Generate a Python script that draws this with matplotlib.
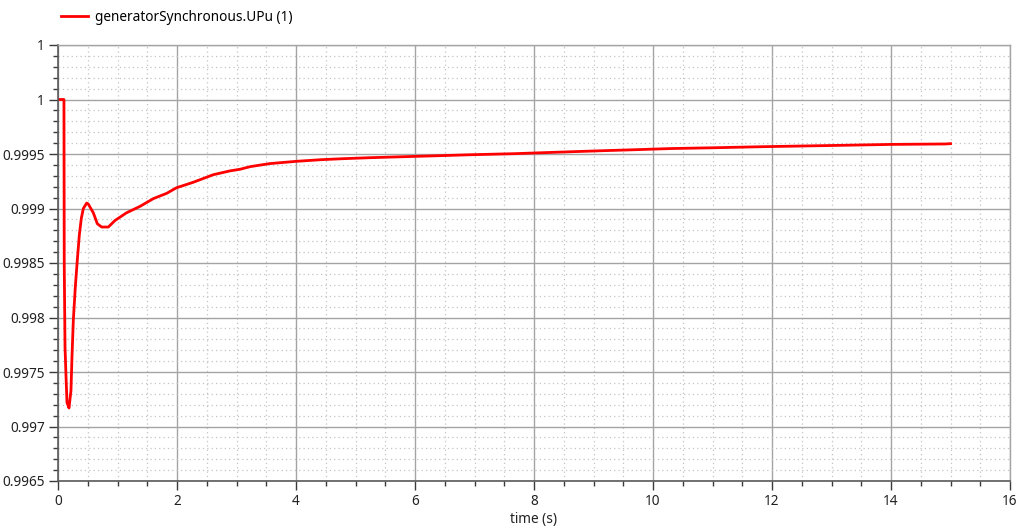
import matplotlib
matplotlib.use('Agg')
import matplotlib.pyplot as plt
from matplotlib.ticker import MultipleLocator, FixedLocator, FixedFormatter

# generatorSynchronous.UPu (1)
time_s = [0.0, 0.1, 0.105, 0.118, 0.134, 0.151, 0.185, 0.218, 0.235, 0.258,
          0.291, 0.325, 0.359, 0.392, 0.426, 0.482, 0.510, 0.594, 0.661, 0.734,
          0.846, 0.958, 1.15, 1.38, 1.60, 1.83, 1.99, 2.27, 2.61, 2.89,
          3.06, 3.23, 3.56, 4.01, 4.43, 4.79, 5.24, 5.80, 6.37, 6.92,
          7.67, 8.15, 8.64, 9.14, 9.68, 10.3, 11.0, 11.84, 13.0, 14.0,
          14.91, 15.0]
upu = [1.0, 1.0, 0.99848, 0.99773, 0.99747, 0.99722, 0.99717, 0.99733, 0.99764, 0.99798,
       0.99828, 0.99853, 0.99876, 0.99891, 0.99900, 0.99905, 0.99904, 0.99896, 0.99886, 0.99883,
       0.99883, 0.99889, 0.99896, 0.99902, 0.99909, 0.99914, 0.99919, 0.99924, 0.99931, 0.999345,
       0.99936, 0.999384, 0.999412, 0.999433, 0.999448, 0.999457, 0.999466, 0.999475, 0.999484, 0.999493,
       0.999503, 0.999512, 0.999521, 0.99953, 0.999539, 0.99955, 0.999557, 0.999567, 0.999578, 0.999588,
       0.999592, 0.999595]
series_label = 'generatorSynchronous.UPu (1)'

# y axis ticks as printed on the reference (top one is 1.0005 shown as "1")
y_ticks = [0.9965, 0.997, 0.9975, 0.998, 0.9985, 0.999, 0.9995, 1.0, 1.0005]
y_tick_labels = ['0.9965', '0.997', '0.9975', '0.998', '0.9985', '0.999', '0.9995', '1', '1']

plt.rcParams['font.family'] = ['Noto Sans', 'DejaVu Sans']
plt.rcParams['font.size'] = 9.8

fig = plt.figure(figsize=(10.18, 5.29), dpi=100)
ax = fig.add_axes([58 / 1018, 48 / 529, 952 / 1018, 436 / 529])

line, = ax.plot(time_s, upu, color='#ff0000', lw=2.0, label=series_label)

ax.set_xlim(0, 16)
ax.set_ylim(0.9965, 1.0005)
ax.xaxis.set_major_locator(MultipleLocator(2))
ax.xaxis.set_minor_locator(MultipleLocator(0.5))
ax.yaxis.set_major_locator(FixedLocator(y_ticks))
ax.yaxis.set_major_formatter(FixedFormatter(y_tick_labels))
ax.yaxis.set_minor_locator(MultipleLocator(0.0001))

ax.grid(which='major', color='#a4a4a4', lw=1.0, ls='-')
ax.grid(which='minor', color='#c4c4c4', lw=0.9, ls=(0, (1, 2.5)))
ax.set_axisbelow(True)

for side in ['top', 'right']:
  ax.spines[side].set_color('#a4a4a4')
  ax.spines[side].set_linewidth(1.0)
for side in ['left', 'bottom']:
  ax.spines[side].set_color('#5a5a5a')
  ax.spines[side].set_linewidth(1.2)

ax.tick_params(which='major', length=6.5, width=1, color='#3a3a3a', labelcolor='#222222', pad=3)
ax.tick_params(which='minor', length=3.5, width=1, color='#3a3a3a')

ax.set_xlabel('time (s)', color='#222222', labelpad=2)

fig.legend(handles=[line], loc='upper left', bbox_to_anchor=(51 / 1018, 1.0),
           frameon=False, handlelength=2.0, handletextpad=0.5, borderaxespad=0.3)

fig.savefig('out.png', dpi=100)
